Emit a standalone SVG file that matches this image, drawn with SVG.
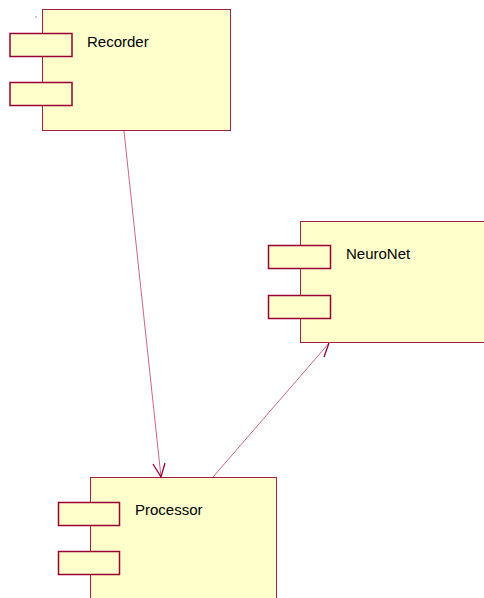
<svg xmlns="http://www.w3.org/2000/svg" width="484" height="598" viewBox="0 0 484 598">
<style>
.body{fill:#ffffcc;stroke:#a0204a;stroke-width:1}
.port{fill:#ffffcc;stroke:#990033;stroke-width:1.5}
.lbl{font-family:"Liberation Sans",Arial,sans-serif;font-size:15px;fill:#000}
.conn{stroke:#cc6688;stroke-width:1;fill:none}
.head{stroke:#990033;stroke-width:1.3;fill:none}
</style>
<rect width="484" height="598" fill="#fff"/>
<g id="Recorder">
<rect class="body" x="42.5" y="9.5" width="188" height="121"/>
<rect class="port" x="10" y="33.5" width="62" height="23"/>
<rect class="port" x="10" y="82.5" width="62" height="23"/>
<text class="lbl" x="87" y="47">Recorder</text>
<rect x="35.5" y="16.5" width="1" height="1" fill="#990033"/>
</g>
<g id="NeuroNet">
<rect class="body" x="300.5" y="221.5" width="190" height="121"/>
<rect class="port" x="268.5" y="245.5" width="62" height="23"/>
<rect class="port" x="268.5" y="295.5" width="62" height="23"/>
<text class="lbl" x="346" y="259">NeuroNet</text>
</g>
<g id="Processor">
<rect class="body" x="90.5" y="477.5" width="186" height="130"/>
<rect class="port" x="58.5" y="502.5" width="61" height="23"/>
<rect class="port" x="58.5" y="551.5" width="61" height="23"/>
<text class="lbl" x="135" y="515">Processor</text>
</g>
<g id="connectors">
<line class="conn" x1="124" y1="131" x2="161" y2="477"/>
<polyline class="head" points="153,464 161,477 165,463"/>
<line class="conn" x1="213" y1="477" x2="330" y2="342"/>
<line class="head" x1="329" y1="343" x2="324" y2="357"/>
</g>
</svg>
